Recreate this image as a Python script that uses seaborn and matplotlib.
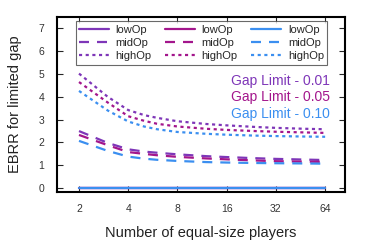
import numpy as np
import pandas as pd
import seaborn as sns
import matplotlib.pyplot as plt

# numero de jogadores
players = [2, 3, 4, 5, 6, 8, 12, 16, 24, 32, 48, 64]

# Gap Limit - 0.01
low_001 = [0, 0, 0, 0, 0, 0, 0, 0, 0, 0, 0, 0]
mid_001 = [2.50, 1.98, 1.70, 1.60, 1.55, 1.48, 1.40, 1.36, 1.31, 1.28, 1.25, 1.23]
high_001 = [5.02, 4.00, 3.42, 3.20, 3.08, 2.93, 2.81, 2.75, 2.68, 2.64, 2.60, 2.58]

# Gap Limit - 0.05
low_005 = [0, 0, 0, 0, 0, 0, 0, 0, 0, 0, 0, 0]
mid_005 = [2.33, 1.88, 1.58, 1.50, 1.44, 1.37, 1.30, 1.26, 1.21, 1.18, 1.16, 1.15]
high_005 = [4.65, 3.75, 3.15, 2.95, 2.82, 2.70, 2.60, 2.55, 2.50, 2.47, 2.44, 2.42]

# Gap Limit - 0.10
low_010 = [0, 0, 0, 0, 0, 0, 0, 0, 0, 0, 0, 0]
mid_010 = [2.07, 1.63, 1.38, 1.29, 1.24, 1.19, 1.14, 1.12, 1.10, 1.09, 1.08, 1.07]
high_010 = [4.26, 3.40, 2.92, 2.70, 2.58, 2.46, 2.38, 2.34, 2.30, 2.28, 2.26, 2.25]

gap_labels = ['Gap Limit - 0.01', 'Gap Limit - 0.05', 'Gap Limit - 0.10']
op_labels = ['lowOp', 'midOp', 'highOp']
x_ticks = [2, 4, 8, 16, 32, 64]

cores = ['#7e36b8', '#a3168c', '#3b8ff0']
estilos = ['-', (0, (4.5, 3.6)), (0, (1.4, 1.6))]

series = [[low_001, mid_001, high_001],
          [low_005, mid_005, high_005],
          [low_010, mid_010, high_010]]

sns.set_style('ticks')
plt.rcParams['font.family'] = ['Liberation Sans', 'DejaVu Sans']

fig = plt.figure(figsize=(3.74, 2.43), dpi=100)
ax = fig.add_axes([0.152, 0.21, 0.77, 0.72])

for g in range(3):
    for o in range(3):
        sns.lineplot(x=players, y=series[g][o], ax=ax, color=cores[g],
                     linestyle=estilos[o], linewidth=1.6, label=op_labels[o])

handles, labels = ax.get_legend_handles_labels()
ax.legend(handles, labels, ncol=3, loc='upper center', bbox_to_anchor=(0.502, 0.975),
          fontsize=8, frameon=True, fancybox=False, edgecolor='#444444',
          handlelength=2.7, handletextpad=0.6, columnspacing=1.2,
          labelspacing=0.3, borderpad=0.3, borderaxespad=0)
ax.get_legend().get_frame().set_linewidth(0.8)

# textos de Gap Limit
for i, txt in enumerate(gap_labels):
    ax.text(0.948, 0.635 - i * 0.095, txt, transform=ax.transAxes, ha='right',
            va='center', color=cores[i], fontsize=10)

ax.set_xscale('log', base=2)
ax.set_xlim(2 ** 0.55, 2 ** 6.4)
ax.set_ylim(-0.17, 7.5)
ax.set_xticks(x_ticks)
ax.set_xticklabels([str(v) for v in x_ticks])
ax.minorticks_off()
ax.set_yticks(range(8))

ax.tick_params(direction='in', length=4, width=0.8, top=True, right=True,
               labelsize=7.5, labelcolor='#333333', pad=9)
for s in ax.spines.values():
    s.set_linewidth(1.5)
    s.set_color('black')

ax.set_xlabel('Number of equal-size players', fontsize=10.5, color='#222222', labelpad=8)
ax.set_ylabel('EBRR for limited gap', fontsize=10.5, color='#222222', labelpad=12)

fig.savefig('out.png', dpi=100)
